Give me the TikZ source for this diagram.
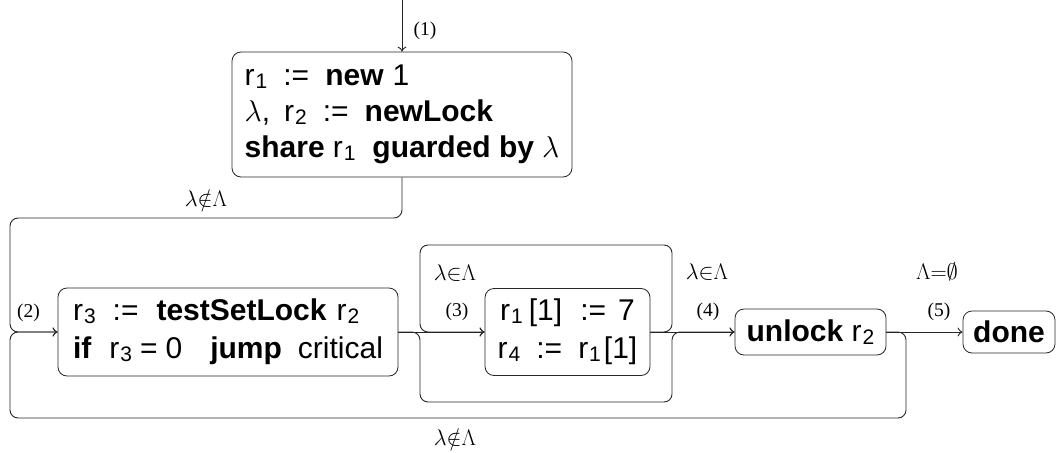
\RequirePackage{fix-cm}
\documentclass[tikz,border=0pt]{standalone}
\usepackage{fontspec}
\setmainfont{Liberation Serif}
\newfontfamily\sansbox{Liberation Sans}
\usetikzlibrary{arrows.meta}

% register with a lowered index, as in r_1
\newcommand\rr[1]{r\kern1pt\raisebox{-0.1em}{\fontsize{21}{21}\selectfont #1}}
\newcommand\kw[1]{\textbf{#1}}
\newcommand\gap[1]{\hspace{#1pt}}

\begin{document}
\begin{tikzpicture}[x=1pt,y=-1pt,
  stmt/.style={draw=black!85, line width=0.8pt, rounded corners=9pt,
    font=\sansbox\fontsize{30}{36}\selectfont, inner sep=0pt},
  lbl/.style={font=\fontsize{19.5}{22}\selectfont, inner sep=0pt},
  mlbl/.style={font=\fontsize{22.5}{24}\selectfont, inner sep=0pt},
  flow/.style={draw=black!85, line width=0.9pt, rounded corners=8pt},
  arrowed/.style={-{To[length=5pt,width=9pt]}}]
\useasboundingbox (0,0) rectangle (1056,452);

% statement blocks
\node[stmt, minimum width=340pt, minimum height=125pt, align=left] (b1) at (402,114.5)
  {\rr{1}\gap{16}:=\gap{16}\kw{new}\gap{9}1\\
   $\lambda$,\gap{14}\rr{2}\gap{16}:=\gap{16}\kw{newLock}\\
   \kw{share}\gap{8}\rr{1}\gap{17}\kw{guarded by}\gap{8}$\lambda$};
\node[stmt, minimum width=340pt, minimum height=88pt, align=left,
      font=\sansbox\fontsize{30}{38}\selectfont] (b2) at (228,332)
  {\rr{3}\gap{17}:=\gap{18}\kw{testSetLock}\gap{10}\rr{2}\\
   \kw{if}\gap{18}\rr{3}\gap{8}=\gap{8}0\gap{28}\kw{jump}\gap{16}critical};
\node[stmt, minimum width=165pt, minimum height=87pt, align=center,
      font=\sansbox\fontsize{30}{38}\selectfont] (b3) at (567.5,332)
  {\rr{1}\gap{6}[1]\gap{18}:=\gap{12}7\\
   \rr{4}\gap{16}:=\gap{16}\rr{1}\gap{3}[1]};
\node[stmt, minimum width=151pt, minimum height=46pt] (u) at (810.5,332)
  {\kw{unlock} \rr{2}};
\node[stmt, minimum width=92pt, minimum height=42pt] (d) at (1009,332)
  {\kw{done}};

% routing points
\coordinate (start) at (402,0);
\coordinate (topL) at (10,218);
\coordinate (botR) at (906,418);
\coordinate (botL) at (10,418);
\coordinate (byL) at (420,402);
\coordinate (byR) at (672,402);
\coordinate (slR) at (672,245);
\coordinate (slL) at (420,245);

% connectors
\draw[flow, arrowed] (start) -- (b1.north);
\draw[flow, arrowed] (b1.south) |- (topL) |- (b2.west);
\draw[flow, arrowed] (u.east) -| (botR) -- (botL) |- (b2.west);
\draw[flow, arrowed] (b2.east) -- (b3.west);
\draw[flow, arrowed] (b3.east) -| (slR) -- (slL) |- (b3.west);
\draw[flow, arrowed] (b2.east) -| (byL) -- (byR) |- (u.west);
\draw[flow, arrowed] (b3.east) -- (u.west);
\draw[flow, arrowed] (u.east) -- (d.west);

% edge labels
\node[lbl] (l1) at (425,31) {(1)};
\node[mlbl] (g1) at (206,199) {$\lambda{\notin}\Lambda$};
\node[lbl] (l2) at (28.5,313) {(2)};
\node[mlbl] (g3) at (455,273) {$\lambda{\in}\Lambda$};
\node[lbl] (l3) at (457,312) {(3)};
\node[mlbl] (g4) at (707,272) {$\lambda{\in}\Lambda$};
\node[lbl] (l4) at (708,312) {(4)};
\node[mlbl] (g5) at (937,272) {$\Lambda{=}\emptyset$};
\node[lbl] (l5) at (939,312) {(5)};
\node[mlbl] (g6) at (455,438) {$\lambda{\notin}\Lambda$};
\end{tikzpicture}
\end{document}
